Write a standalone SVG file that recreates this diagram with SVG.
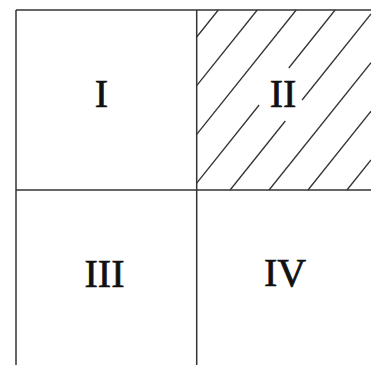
<svg xmlns="http://www.w3.org/2000/svg" width="371" height="367" viewBox="0 0 371 367">
  <style>
    .grid { stroke: #333; stroke-width: 1.5; fill: none; stroke-linecap: butt; }
    .hatch { stroke: #333; stroke-width: 1.3; fill: none; }
    .lbl { font-family: "Liberation Serif", "Times New Roman", serif; font-size: 40px; fill: #111; stroke: #111; stroke-width: 0.7; text-anchor: middle; }
  </style>
  <rect width="371" height="367" fill="#fff"/>
  <g id="grid-lines">
    <line class="grid" x1="16" y1="10" x2="371" y2="10"/>
    <line class="grid" x1="16" y1="190" x2="371" y2="190"/>
    <line class="grid" x1="16" y1="10" x2="16" y2="365"/>
    <line class="grid" x1="196.7" y1="10" x2="196.7" y2="365"/>
  </g>
  <g id="cell-I">
    <text class="lbl" x="101.5" y="107">I</text>
  </g>
  <g id="cell-II">
    <g id="hatching">
      <line class="hatch" x1="218.3" y1="10" x2="196.7" y2="37"/>
      <line class="hatch" x1="257.25" y1="10" x2="196.7" y2="85.7"/>
      <line class="hatch" x1="296.2" y1="10" x2="196.7" y2="134.4"/>
      <line class="hatch" x1="335.15" y1="10" x2="288.75" y2="68"/>
      <line class="hatch" x1="259.15" y1="105" x2="196.7" y2="183.1"/>
      <line class="hatch" x1="371" y1="13.9" x2="302.1" y2="100"/>
      <line class="hatch" x1="285.3" y1="121" x2="230.1" y2="190"/>
      <line class="hatch" x1="371" y1="62.6" x2="269.05" y2="190"/>
      <line class="hatch" x1="371" y1="111.25" x2="308" y2="190"/>
      <line class="hatch" x1="371" y1="160" x2="346.95" y2="190"/>
    </g>
    <text class="lbl" x="283" y="107">II</text>
  </g>
  <g id="cell-III">
    <text class="lbl" x="104.5" y="287">III</text>
  </g>
  <g id="cell-IV">
    <text class="lbl" x="285" y="286">IV</text>
  </g>
</svg>
